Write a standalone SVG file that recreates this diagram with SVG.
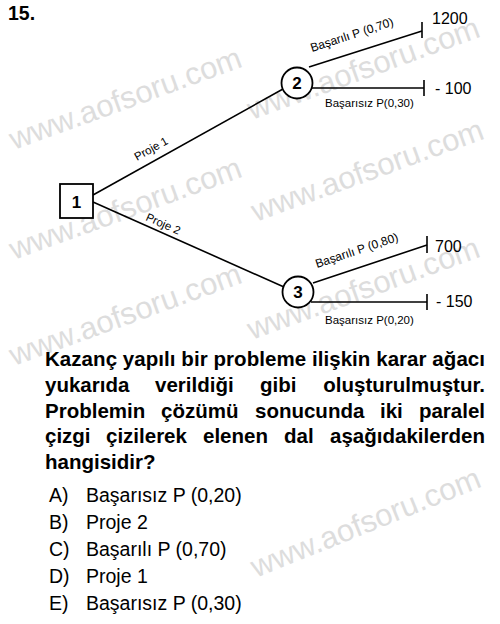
<svg xmlns="http://www.w3.org/2000/svg" width="500" height="624" viewBox="0 0 500 624">
<style>
.wm{font-family:"Liberation Sans",Arial,sans-serif;font-size:31px;fill:#dddddd}
.ln{stroke:#000;stroke-width:1.6;fill:none}
.nd{stroke:#000;stroke-width:1.8;fill:#fff}
.nt{font-family:"Liberation Sans",Arial,sans-serif;font-size:17px;font-weight:bold;text-anchor:middle}
.lbl{font-family:"Liberation Sans",Arial,sans-serif;font-size:11.5px}
.val{font-family:"Liberation Sans",Arial,sans-serif;font-size:16px}
.q{font-family:"Liberation Sans",Arial,sans-serif;font-size:20.5px;font-weight:bold}
.opt{font-family:"Liberation Sans",Arial,sans-serif;font-size:19.5px}
</style>
<rect width="500" height="624" fill="#fff"/>
<g id="watermarks">
<text class="wm" transform="translate(14,150) rotate(-20)">www.aofsoru.com</text>
<text class="wm" transform="translate(252,120) rotate(-20)">www.aofsoru.com</text>
<text class="wm" transform="translate(14,260) rotate(-20)">www.aofsoru.com</text>
<text class="wm" transform="translate(256,222) rotate(-20)">www.aofsoru.com</text>
<text class="wm" transform="translate(14,366) rotate(-20)">www.aofsoru.com</text>
<text class="wm" transform="translate(252,340) rotate(-20)">www.aofsoru.com</text>
<text class="wm" transform="translate(256,578) rotate(-22)">www.aofsoru.com</text>
</g>
<text x="8" y="20" style="font-family:'Liberation Sans',Arial,sans-serif;font-size:19.5px;font-weight:bold">15.</text>
<g id="connectors">
<line class="ln" x1="93" y1="195" x2="283" y2="89"/>
<line class="ln" x1="93" y1="202" x2="284" y2="287"/>
<line class="ln" x1="309" y1="67" x2="422" y2="31"/>
<line class="ln" x1="422" y1="22" x2="422" y2="38"/>
<line class="ln" x1="312" y1="88" x2="424" y2="88"/>
<line class="ln" x1="424" y1="80" x2="424" y2="96"/>
<line class="ln" x1="313" y1="283" x2="427" y2="245"/>
<line class="ln" x1="427" y1="236" x2="427" y2="253"/>
<line class="ln" x1="311" y1="302" x2="427" y2="302"/>
<line class="ln" x1="427" y1="294" x2="427" y2="310"/>
<text class="lbl" transform="translate(137,161) rotate(-29)">Proje 1</text>
<text class="lbl" transform="translate(145,220) rotate(24)">Proje 2</text>
<text class="lbl" style="font-size:12px" transform="translate(312,52) rotate(-18)">Başarılı P (0,70)</text>
<text class="lbl" x="325" y="107">Başarısız P(0,30)</text>
<text class="lbl" style="font-size:12px" transform="translate(317,268) rotate(-18.5)">Başarılı P (0,80)</text>
<text class="lbl" x="325" y="324">Başarısız P(0,20)</text>
<text class="val" x="432" y="24">1200</text>
<text class="val" x="435" y="94">- 100</text>
<text class="val" x="435" y="252">700</text>
<text class="val" x="436" y="307">- 150</text>
</g>
<g id="node1">
<rect class="nd" x="60" y="184" width="33" height="34"/>
<text class="nt" x="76.5" y="207.5">1</text>
</g>
<g id="node2">
<circle class="nd" cx="297" cy="83" r="15.5"/>
<text class="nt" x="297" y="89">2</text>
</g>
<g id="node3">
<circle class="nd" cx="298" cy="292" r="15.5"/>
<text class="nt" x="298" y="298">3</text>
</g>
<g id="question">
<text class="q" x="45" y="366" textLength="440" lengthAdjust="spacing">Kazanç yapılı bir probleme ilişkin karar ağacı</text>
<text class="q" y="392"><tspan x="45">yukarıda</tspan><tspan x="155">verildiği</tspan><tspan x="260">gibi</tspan></text>
<text class="q" x="485" y="392" text-anchor="end">oluşturulmuştur.</text>
<text class="q" y="418"><tspan x="45">Problemin</tspan><tspan x="161">çözümü</tspan><tspan x="255">sonucunda</tspan><tspan x="380">iki</tspan></text>
<text class="q" x="485" y="418" text-anchor="end">paralel</text>
<text class="q" y="443"><tspan x="45">çizgi</tspan><tspan x="106">çizilerek</tspan><tspan x="203">elenen</tspan><tspan x="284">dal</tspan></text>
<text class="q" x="485" y="443" text-anchor="end">aşağıdakilerden</text>
<text class="q" x="45" y="469">hangisidir?</text>
</g>
<g id="options">
<text class="opt" x="49" y="502">A)</text><text class="opt" x="86" y="502">Başarısız P (0,20)</text>
<text class="opt" x="49" y="529">B)</text><text class="opt" x="86" y="529">Proje 2</text>
<text class="opt" x="49" y="556">C)</text><text class="opt" x="86" y="556">Başarılı P (0,70)</text>
<text class="opt" x="49" y="583">D)</text><text class="opt" x="86" y="583">Proje 1</text>
<text class="opt" x="49" y="610">E)</text><text class="opt" x="86" y="610">Başarısız P (0,30)</text>
</g>
</svg>
